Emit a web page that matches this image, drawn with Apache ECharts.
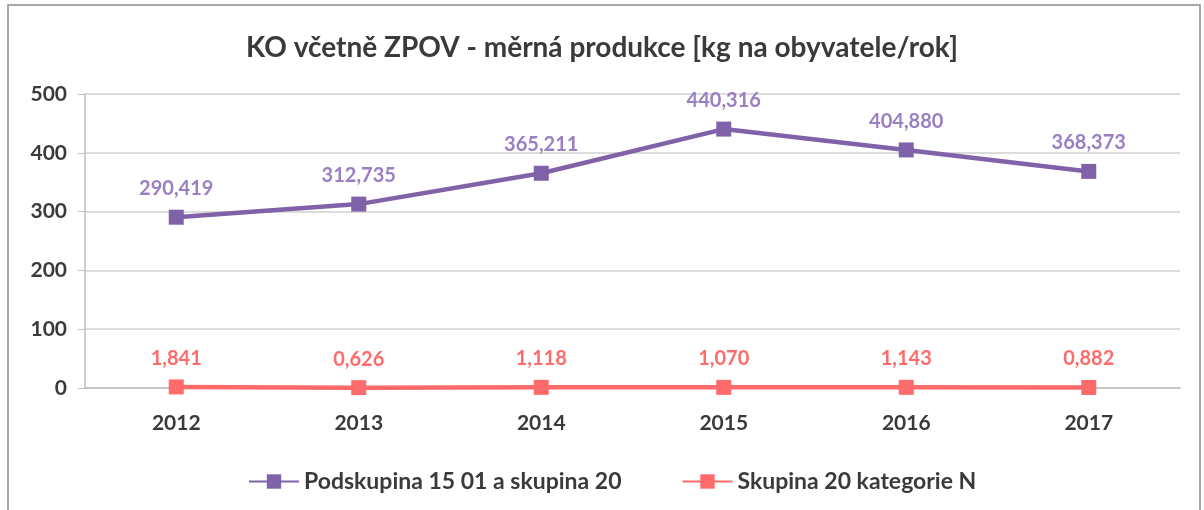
<!DOCTYPE html>
<html>
<head>
<meta charset="utf-8">
<script src="https://cdn.jsdelivr.net/npm/echarts@6/dist/echarts.min.js"></script>
<style>
  html, body { margin: 0; padding: 0; background: #fff; }
  #chart { width: 1204px; height: 510px; }
</style>
</head>
<body>
<div id="chart"></div>
<script>
// data
const years = ['2012', '2013', '2014', '2015', '2016', '2017']
const podskupina = [290.419, 312.735, 365.211, 440.316, 404.880, 368.373]
const kategorieN = [1.841, 0.626, 1.118, 1.070, 1.143, 0.882]
const yTicks = [0, 100, 200, 300, 400, 500]

const purple = '#7F62A8'
const red = '#FF6B6B'
const fontFam = 'Lato, "Open Sans", sans-serif'

// cislo s desetinnou carkou
const fmt = v => v.toFixed(3).replace('.', ',')

const chart = echarts.init(document.getElementById('chart'))
chart.setOption({
  animation: false,
  textStyle: { fontFamily: fontFam },
  graphic: [{
    type: 'rect',
    shape: { x: 8, y: 5, width: 1192, height: 520 },
    style: { fill: 'none', stroke: '#8c8c8c', lineWidth: 1.5 },
    silent: true
  }],
  title: {
    text: 'KO včetně ZPOV - měrná produkce [kg na obyvatele/rok]',
    left: 'center',
    top: 29,
    textStyle: { fontSize: 28, fontWeight: 'bold', color: '#3a3a3a', fontFamily: fontFam }
  },
  legend: {
    bottom: 12,
    left: 243,
    itemWidth: 50,
    itemHeight: 18,
    itemGap: 60,
    textStyle: { fontSize: 23, fontWeight: 'bold', color: '#3a3a3a', fontFamily: fontFam },
    data: ['Podskupina 15 01 a skupina 20', 'Skupina 20 kategorie N']
  },
  grid: { left: 85, right: 24, top: 94, bottom: 122 },
  xAxis: {
    type: 'category',
    data: years,
    boundaryGap: true,
    axisLine: { lineStyle: { color: '#bfbfbf', width: 1.5 } },
    axisTick: { show: false },
    axisLabel: { fontSize: 21, fontWeight: 'bold', color: '#3a3a3a', margin: 25 }
  },
  yAxis: {
    type: 'value',
    min: yTicks[0],
    max: yTicks[yTicks.length - 1],
    interval: 100,
    axisLine: { show: true, lineStyle: { color: '#bfbfbf', width: 1.5 } },
    axisTick: { show: true, length: 7, lineStyle: { color: '#bfbfbf' } },
    axisLabel: { fontSize: 21, fontWeight: 'bold', color: '#3a3a3a', margin: 18 },
    splitLine: { lineStyle: { color: '#d0d0d0', width: 1.5 } }
  },
  series: [
    {
      name: 'Podskupina 15 01 a skupina 20',
      type: 'line',
      data: podskupina,
      symbol: 'rect',
      symbolSize: 15,
      lineStyle: { color: purple, width: 4.5 },
      itemStyle: { color: purple },
      label: {
        show: true,
        position: 'top',
        distance: 11,
        fontSize: 20,
        fontWeight: 'bold',
        color: '#9A80C2',
        formatter: p => fmt(p.value)
      }
    },
    {
      name: 'Skupina 20 kategorie N',
      type: 'line',
      data: kategorieN,
      symbol: 'rect',
      symbolSize: 15,
      lineStyle: { color: red, width: 4.5 },
      itemStyle: { color: red },
      label: {
        show: true,
        position: 'top',
        distance: 11,
        fontSize: 20,
        fontWeight: 'bold',
        color: red,
        formatter: p => fmt(p.value)
      }
    }
  ]
})
</script>
</body>
</html>
